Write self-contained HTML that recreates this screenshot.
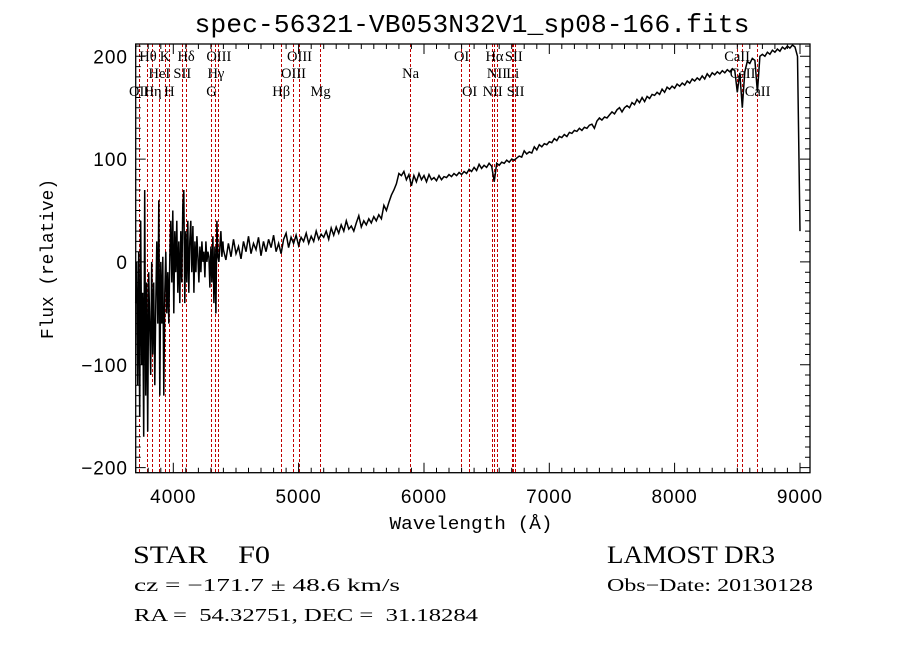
<!DOCTYPE html>
<html><head><meta charset="utf-8"><style>
html,body{margin:0;padding:0;background:#fff;}
svg{display:block;}
text{white-space:pre;}
</style></head><body>
<svg id="chart" width="900" height="649" viewBox="0 0 900 649" xmlns="http://www.w3.org/2000/svg">
<rect x="0" y="0" width="900" height="649" fill="#fff"/>
<text x="472" y="32" font-family="Liberation Mono, monospace" font-size="26" text-anchor="middle" textLength="555" lengthAdjust="spacingAndGlyphs">spec-56321-VB053N32V1_sp08-166.fits</text>
<g id="lines"></g>
<g id="labels"></g>
<g id="spec"></g>
<g id="axes"></g>
<text x="471" y="529" font-family="Liberation Mono, monospace" font-size="18" text-anchor="middle" textLength="163" lengthAdjust="spacingAndGlyphs">Wavelength (Å)</text>
<text transform="translate(53,259) rotate(-90)" font-family="Liberation Mono, monospace" font-size="18" text-anchor="middle" textLength="160" lengthAdjust="spacingAndGlyphs">Flux (relative)</text>
<g font-family="Liberation Serif, serif">
<text x="133" y="563" font-size="25" textLength="137" lengthAdjust="spacingAndGlyphs">STAR    F0</text>
<text x="607" y="563" font-size="25" textLength="168" lengthAdjust="spacingAndGlyphs">LAMOST DR3</text>
<text x="134" y="591" font-size="18" textLength="266" lengthAdjust="spacingAndGlyphs">cz = −171.7 ± 48.6 km/s</text>
<text x="607" y="591" font-size="18" textLength="206" lengthAdjust="spacingAndGlyphs">Obs−Date: 20130128</text>
<text x="134" y="621" font-size="18" textLength="344" lengthAdjust="spacingAndGlyphs">RA =  54.32751, DEC =  31.18284</text>
</g>
</svg>
<script>
const xTicks=[4000,5000,6000,7000,8000,9000];
const yTicks=[-200,-100,0,100,200];
const blueStart=3700, blueStep=8;
const blueFlux=[-40,0,-120,10,-150,40,-100,-30,-170,70,-130,-20,-165,-10,-60,-110,0,-90,-20,-120,-40,20,-60,60,-130,0,-60,5,-130,-30,10,-50,-10,-60,5,40,-20,50,-50,30,-10,40,-30,20,-40,30,-20,55,70,-40,30,-20,40,-30,20,40,-10,35,-30,20,-10,25,5,-20,15,-10,20,0,10,-15,20,0,10,5,-25,15,-20,25,-40,15,-50,40,5,0,15,30,5,20];
const midStart=4400, midStep=20;
const midFlux=[12,2,18,5,22,8,15,3,20,10,25,8,18,12,24,6,20,10,22,14,26,10,18,8,22,28,14,24,18,26,16,24,20,28,18,25,20,30,22,27,24,30,22,33,26,34,28,36,30,40,32,35,30,38,45,34,40,36,42,38,44,40,46,42,55,50,58,65,70,76];
const redStart=5800, redStep=20;
const redFlux=[86,84,88,80,85,74,84,78,86,80,84,78,85,80,82,79,84,80,83,82,85,83,86,84,87,85,88,86,90,88,92,89,95,91,94,92,96,93,78,96,94,97,96,99,97,100,99,101,103,102,108,105,107,106,112,109,114,112,115,114,117,116,120,118,122,121,124,122,126,125,128,127,130,128,131,130,133,134,130,137,140,138,141,140,143,146,144,148,150,146,150,152,150,155,153,158,155,160,156,161,159,163,162,165,163,168,165,170,168,171,169,173,171,174,172,176,174,178,176,179,177,181,178,183,180,184,182,185,183,186,184,187,185,188,186,165,184,150,185,195,193,198,196,165,200,202,200,204,202,206,204,207,205,209,207,210,208,211,209,200,30];
const lineWaves=[3727,3798,3835,3889,3934,3969,4072,4102,4305,4340,4363,4861,4959,5007,5175,5893,6300,6364,6548,6563,6583,6708,6717,6731,8498,8542,8662];
const labelText=["OII","Hθ","Hη","HeI","K","H","SII","Hδ","G","Hγ","OIII","Hβ","OIII","OIII","Mg","Na","OI","OI","NII","Hα","NII","Li","SII","SII","CaII","CaII","CaII"];
const labelRow=[2,0,2,1,0,2,1,0,2,1,0,2,1,0,2,1,0,2,2,0,1,1,0,2,0,1,2];

const NS='http://www.w3.org/2000/svg';
const L=135.7,R=810,T=44,B=472.7,X0=3700,X1=9080,Y0=-205,Y1=212;
const sx=w=>L+(w-X0)/(X1-X0)*(R-L);
const sy=f=>B-(f-Y0)/(Y1-Y0)*(B-T);
function mk(tag,attrs,parent){const e=document.createElementNS(NS,tag);for(const k in attrs)e.setAttribute(k,attrs[k]);parent.appendChild(e);return e;}

const gl=document.getElementById('lines');
lineWaves.forEach((w,i)=>{
  const x=Math.floor(sx(w))+0.5;
  const ln=mk('line',{x1:x,x2:x,y1:T,y2:B,stroke:'#c00000','stroke-width':1,'stroke-dasharray':'3,2','shape-rendering':'crispEdges'},gl);
  
  
});
const glab=document.getElementById('labels');
const rowY=[61,78,96];
lineWaves.forEach((w,i)=>{
  const t=mk('text',{x:sx(w).toFixed(1),y:rowY[labelRow[i]],'font-family':'Liberation Serif, serif','font-size':14.5,'text-anchor':'middle'},glab);
  t.textContent=labelText[i];
  
  
});

let pts=[];
blueFlux.forEach((f,i)=>pts.push([blueStart+i*blueStep,f]));
midFlux.forEach((f,i)=>pts.push([midStart+i*midStep,f]));
redFlux.forEach((f,i)=>pts.push([redStart+i*redStep,f]));
const d=pts.map((p,i)=>(i?'L':'M')+sx(p[0]).toFixed(1)+','+sy(Math.max(Y0,Math.min(Y1,p[1]))).toFixed(1)).join('');
const sp=mk('path',{d:d,fill:'none',stroke:'#000','stroke-width':1.5,'stroke-linejoin':'miter'},document.getElementById('spec'));



const ga=document.getElementById('axes');
const fr=mk('rect',{x:L,y:T,width:R-L,height:B-T,fill:'none',stroke:'#000','stroke-width':1.3},ga);


let td='';
for(let w=3700;w<=9080;w+=100){const x=sx(w).toFixed(1);const len=(w%1000===0)?10:5;td+=`M${x},${B}v${-len}M${x},${T}v${len}`;}
for(let f=-200;f<=210;f+=10){const y=sy(f).toFixed(1);const len=(f%100===0)?10:5;td+=`M${L},${y}h${len}M${R},${y}h${-len}`;}
const tk=mk('path',{d:td,stroke:'#000','stroke-width':1,fill:'none'},ga);


xTicks.forEach(v=>{
  const t=mk('text',{x:sx(v).toFixed(1),y:503,'font-family':'Liberation Sans, sans-serif','font-size':19,'text-anchor':'middle','letter-spacing':'1'},ga);
  t.textContent=v;
  
  
});
yTicks.forEach(v=>{
  const t=mk('text',{x:128,y:(sy(v)+7).toFixed(1),'font-family':'Liberation Sans, sans-serif','font-size':19,'text-anchor':'end','letter-spacing':'1'},ga);
  t.textContent=v<0?'−'+Math.abs(v):v;
  
  
});
</script>
</body></html>
